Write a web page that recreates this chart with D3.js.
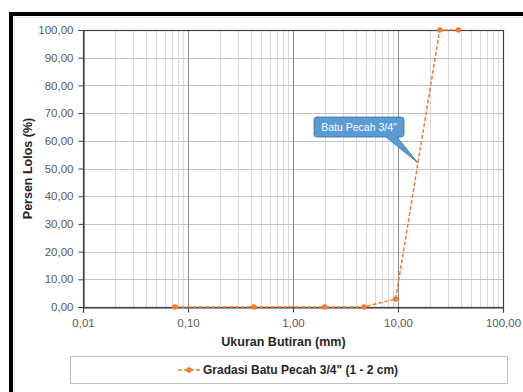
<!DOCTYPE html>
<html>
<head>
<meta charset="utf-8">
<script src="https://cdn.jsdelivr.net/npm/d3@7"></script>
<style>
  html, body { margin: 0; padding: 0; background: #ffffff; }
  svg { display: block; }
  text { font-family: "Liberation Sans", Arial, sans-serif; }
</style>
</head>
<body>
<svg id="chart" width="523" height="392"></svg>
<script>
// Sieve sizes (mm) and percent passing for crushed stone 3/4"
const sieveSizes = [0.075, 0.425, 2.0, 4.75, 9.5, 25.0, 37.5];
const percentPassing = [0.0, 0.0, 0.0, 0.0, 2.9, 100.0, 100.0];

const xTicks = [0.01, 0.1, 1, 10, 100];
const xTickLabels = ["0,01", "0,10", "1,00", "10,00", "100,00"];
const yTicks = [0, 10, 20, 30, 40, 50, 60, 70, 80, 90, 100];

const seriesName = "Gradasi Batu Pecah 3/4\" (1 - 2 cm)";
const calloutText = "Batu Pecah 3/4\"";
const calloutAt = [15.5, 52]; // point on the curve the callout points at
const xTitle = "Ukuran Butiran (mm)";
const yTitle = "Persen Lolos (%)";

const svg = d3.select("#chart");
const W = 523, H = 392;
const m = { left: 83, top: 30, right: 503, bottom: 307 };
const orange = "#ED7D31";

// Outer frame: thick dark strip on top and left
svg.append("rect").attr("x", 0).attr("y", 0).attr("width", W).attr("height", H).attr("fill", "#ffffff");
svg.append("rect").attr("x", 9).attr("y", 12).attr("width", W - 9).attr("height", 4).attr("fill", "#000");
svg.append("rect").attr("x", 9).attr("y", 12).attr("width", 4).attr("height", H - 12).attr("fill", "#000");
svg.append("path").attr("d", `M14.5,${H} V17.5 H${W}`)
  .attr("fill", "none").attr("stroke", "#e8e8e8").attr("stroke-width", 1);

const x = d3.scaleLog().domain([0.01, 100]).range([m.left, m.right]);
const y = d3.scaleLinear().domain([0, 100]).range([m.bottom, m.top]);

const grid = svg.append("g");

// Minor vertical grid lines (2..9 within each decade)
const minor = [];
for (let d = 0.01; d < 100; d *= 10) {
  for (let k = 2; k <= 9; k++) minor.push(d * k);
}
grid.selectAll("line.minor").data(minor).join("line")
  .attr("x1", d => Math.round(x(d)) + 0.5).attr("x2", d => Math.round(x(d)) + 0.5)
  .attr("y1", m.top).attr("y2", m.bottom)
  .attr("stroke", "#d9d9d9").attr("stroke-width", 1);

// Horizontal grid lines
grid.selectAll("line.h").data(yTicks).join("line")
  .attr("x1", m.left).attr("x2", m.right)
  .attr("y1", d => Math.round(y(d)) + 0.5).attr("y2", d => Math.round(y(d)) + 0.5)
  .attr("stroke", "#c4c4c4").attr("stroke-width", 1);

// Decade grid lines
grid.selectAll("line.major").data(xTicks.slice(1, -1)).join("line")
  .attr("x1", d => Math.round(x(d)) + 0.5).attr("x2", d => Math.round(x(d)) + 0.5)
  .attr("y1", m.top).attr("y2", m.bottom)
  .attr("stroke", "#8a8a8a").attr("stroke-width", 1);

// Plot border
svg.append("rect")
  .attr("x", m.left + 0.5).attr("y", m.top + 0.5)
  .attr("width", m.right - m.left).attr("height", m.bottom - m.top)
  .attr("fill", "none").attr("stroke", "#404040").attr("stroke-width", 1.2);

// Axes
const xAxis = d3.axisBottom(x).tickValues(xTicks)
  .tickFormat((d, i) => xTickLabels[i]).tickSize(5).tickPadding(6);
const gx = svg.append("g").attr("transform", `translate(0,${m.bottom + 0.5})`).call(xAxis);
gx.select(".domain").attr("stroke", "#404040").attr("stroke-width", 1.2);
gx.selectAll(".tick line").attr("stroke", "#404040");
gx.selectAll("text").attr("font-size", 11.5).attr("fill", "#595959")
  .attr("font-family", "'Liberation Sans', Arial, sans-serif");

const yAxis = d3.axisLeft(y).tickValues(yTicks)
  .tickFormat(d => d3.format(".2f")(d).replace(".", ",")).tickSize(5).tickPadding(5);
const gy = svg.append("g").attr("transform", `translate(${m.left + 0.5},0)`).call(yAxis);
gy.select(".domain").attr("stroke", "#404040").attr("stroke-width", 1.2);
gy.selectAll(".tick line").attr("stroke", "#404040");
gy.selectAll("text").attr("font-size", 11.5).attr("fill", "#595959")
  .attr("font-family", "'Liberation Sans', Arial, sans-serif");

// Axis titles
svg.append("text").attr("x", 283.5).attr("y", 346)
  .attr("text-anchor", "middle").attr("font-size", 12.5).attr("font-weight", "bold")
  .attr("fill", "#262626").text(xTitle);
svg.append("text")
  .attr("transform", `translate(32,${(m.top + m.bottom) / 2}) rotate(-90)`)
  .attr("text-anchor", "middle").attr("font-size", 12.5).attr("font-weight", "bold")
  .attr("fill", "#262626").text(yTitle);

// Grading curve
const pts = sieveSizes.map((s, i) => [s, percentPassing[i]]);
const line = d3.line().x(d => x(d[0])).y(d => y(d[1]));
svg.append("path").datum(pts).attr("d", line)
  .attr("fill", "none").attr("stroke", orange).attr("stroke-width", 1.5)
  .attr("stroke-dasharray", "4,2");
svg.selectAll("circle.pt").data(pts).join("circle")
  .attr("cx", d => x(d[0])).attr("cy", d => y(d[1])).attr("r", 2.8)
  .attr("fill", orange);

// Callout bubble pointing to the curve
const bx = 314, by = 117, bw = 90, bh = 20;
const tip = [x(calloutAt[0]), y(calloutAt[1])];
const cg = svg.append("g");
cg.append("path")
  .attr("d", `M${bx + 3},${by} H${bx + bw - 3} Q${bx + bw},${by} ${bx + bw},${by + 3} V${by + bh - 3} Q${bx + bw},${by + bh} ${bx + bw - 3},${by + bh} H${bx + 83} L${tip[0]},${tip[1]} L${bx + 72},${by + bh} H${bx + 3} Q${bx},${by + bh} ${bx},${by + bh - 3} V${by + 3} Q${bx},${by} ${bx + 3},${by} Z`)
  .attr("fill", "#5B9BD5").attr("stroke", "#41719C").attr("stroke-width", 0.8);
cg.append("text").attr("x", bx + bw / 2).attr("y", by + 14)
  .attr("text-anchor", "middle").attr("font-size", 10.5).attr("fill", "#ffffff")
  .text(calloutText);

// Legend
svg.append("rect").attr("x", 70.5).attr("y", 356.5).attr("width", 437).attr("height", 27)
  .attr("fill", "#ffffff").attr("stroke", "#bfbfbf").attr("stroke-width", 1);
const lg = svg.append("g");
lg.append("line").attr("x1", 178).attr("x2", 200).attr("y1", 370).attr("y2", 370)
  .attr("stroke", orange).attr("stroke-width", 1.5).attr("stroke-dasharray", "4,2");
lg.append("circle").attr("cx", 189).attr("cy", 370).attr("r", 2.8).attr("fill", orange);
lg.append("text").attr("x", 203).attr("y", 374).attr("font-size", 12).attr("font-weight", "bold")
  .attr("fill", "#262626").text(seriesName);
</script>
</body>
</html>
